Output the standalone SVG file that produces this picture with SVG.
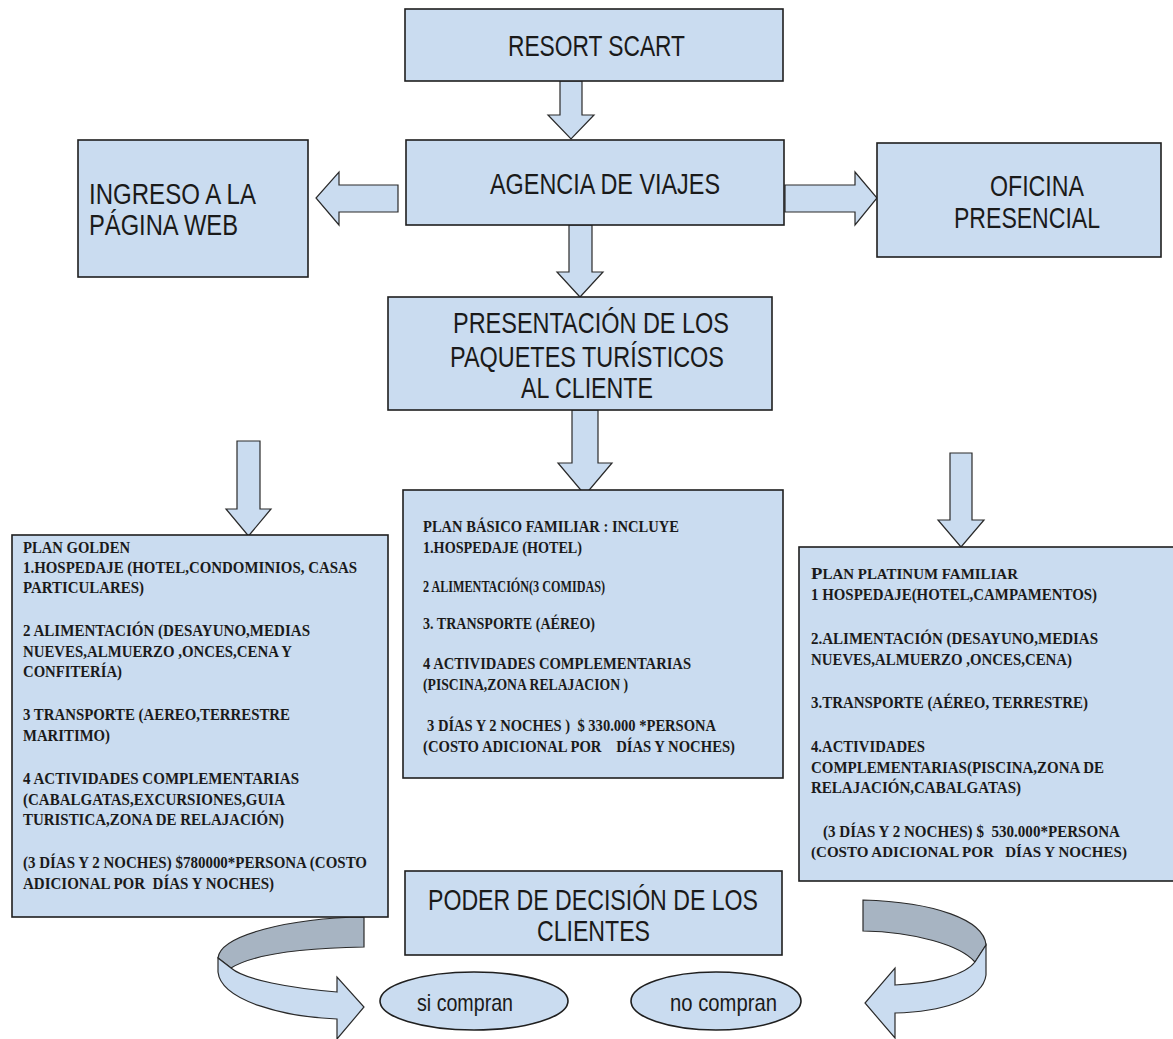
<svg xmlns="http://www.w3.org/2000/svg" width="1173" height="1039" viewBox="0 0 1173 1039">
<style>
.box{fill:#cadcf0;stroke:#1f1f1f;stroke-width:1.6}
.arr{fill:#cadcf0;stroke:#2a2a2a;stroke-width:1.2;stroke-linejoin:miter}
.back{fill:#a7b4c2;stroke:#2a2a2a;stroke-width:1.2}
.big{font-family:"Liberation Sans",Arial,sans-serif;font-size:30px;fill:#1a1a1a}
.sm{font-family:"Liberation Serif","Times New Roman",serif;font-weight:bold;font-size:17.5px;fill:#1a1a1a}
.ov{font-family:"Liberation Sans",Arial,sans-serif;font-size:24px;fill:#1a1a1a}
</style>
<rect width="1173" height="1039" fill="#ffffff"/>

<g id="connectors">
  <polygon class="arr" points="560,81 582,81 582,115 594,115 571,139 548,115 560,115"/>
  <polygon class="arr" points="398,185 339,185 339,172 316,198 339,225 339,212 398,212"/>
  <polygon class="arr" points="785,185 855,185 855,172 877,198 855,225 855,212 785,212"/>
  <polygon class="arr" points="569,225 592,225 592,272 603,272 580,297 557,272 569,272"/>
  <polygon class="arr" points="572,410 598,410 598,463 612,463 585,495 558,463 572,463"/>
  <polygon class="arr" points="237,441 260,441 260,509 271,509 248.5,536 226,509 237,509"/>
  <polygon class="arr" points="950,453 972,453 972,520 984,520 961,547 938,520 950,520"/>
  <path class="back" d="M364,917 C290,918 220,935 218,958 L231,968 C252,955 300,948 364,947 Z"/>
  <path class="arr" d="M218,958 L218,972 C221,1001 285,1017 337,1019 L337,1039 L364,1007 L337,977 L337,992 C290,988 245,980 231,968 Z"/>
  <path class="back" d="M863,900 C935,902 984,920 986,945 L975,962 C960,945 915,932 863,931 Z"/>
  <path class="arr" d="M986,945 L986,975 C983,1000 940,1012 895,1013 L895,1038 L865,1003 L895,968 L895,985 C935,983 965,975 975,962 Z"/>
</g>

<g id="resort">
  <rect class="box" x="405" y="9" width="378" height="72"/>
  <text class="big" x="508" y="56" textLength="177" lengthAdjust="spacingAndGlyphs">RESORT SCART</text>
</g>

<g id="agencia">
  <rect class="box" x="406" y="140" width="378" height="85"/>
  <text class="big" x="490" y="194" textLength="230" lengthAdjust="spacingAndGlyphs">AGENCIA DE VIAJES</text>
</g>

<g id="ingreso">
  <rect class="box" x="78" y="140" width="230" height="137"/>
  <text class="big" x="89" y="204" textLength="167" lengthAdjust="spacingAndGlyphs">INGRESO A LA</text>
  <text class="big" x="89" y="235" textLength="149" lengthAdjust="spacingAndGlyphs">PÁGINA WEB</text>
</g>

<g id="oficina">
  <rect class="box" x="877" y="143" width="284" height="114"/>
  <text class="big" x="990" y="196" textLength="94" lengthAdjust="spacingAndGlyphs">OFICINA</text>
  <text class="big" x="954" y="228" textLength="146" lengthAdjust="spacingAndGlyphs">PRESENCIAL</text>
</g>

<g id="presentacion">
  <rect class="box" x="388" y="297" width="384" height="113"/>
  <text class="big" x="453" y="333" textLength="276" lengthAdjust="spacingAndGlyphs">PRESENTACIÓN DE LOS</text>
  <text class="big" x="450" y="367" textLength="274" lengthAdjust="spacingAndGlyphs">PAQUETES TURÍSTICOS</text>
  <text class="big" x="521" y="398" textLength="132" lengthAdjust="spacingAndGlyphs">AL CLIENTE</text>
</g>

<g id="plan-golden">
  <rect class="box" x="12" y="535" width="376" height="382"/>
  <text class="sm" x="23" y="553" textLength="107" lengthAdjust="spacingAndGlyphs">PLAN GOLDEN</text>
  <text class="sm" x="23" y="573" textLength="334" lengthAdjust="spacingAndGlyphs">1.HOSPEDAJE (HOTEL,CONDOMINIOS, CASAS</text>
  <text class="sm" x="23" y="593" textLength="121" lengthAdjust="spacingAndGlyphs">PARTICULARES)</text>
  <text class="sm" x="23" y="636" textLength="287" lengthAdjust="spacingAndGlyphs">2 ALIMENTACIÓN (DESAYUNO,MEDIAS</text>
  <text class="sm" x="23" y="657" textLength="269" lengthAdjust="spacingAndGlyphs">NUEVES,ALMUERZO ,ONCES,CENA Y</text>
  <text class="sm" x="23" y="677" textLength="99" lengthAdjust="spacingAndGlyphs">CONFITERÍA)</text>
  <text class="sm" x="23" y="720" textLength="267" lengthAdjust="spacingAndGlyphs">3 TRANSPORTE (AEREO,TERRESTRE</text>
  <text class="sm" x="23" y="741" textLength="87" lengthAdjust="spacingAndGlyphs">MARITIMO)</text>
  <text class="sm" x="23" y="784" textLength="276" lengthAdjust="spacingAndGlyphs">4 ACTIVIDADES COMPLEMENTARIAS</text>
  <text class="sm" x="23" y="805" textLength="262" lengthAdjust="spacingAndGlyphs">(CABALGATAS,EXCURSIONES,GUIA</text>
  <text class="sm" x="23" y="825" textLength="261" lengthAdjust="spacingAndGlyphs">TURISTICA,ZONA DE RELAJACIÓN)</text>
  <text class="sm" x="23" y="868" textLength="344" lengthAdjust="spacingAndGlyphs">(3 DÍAS Y 2 NOCHES) $780000*PERSONA (COSTO</text>
  <text class="sm" x="23" y="889" textLength="251" lengthAdjust="spacingAndGlyphs" xml:space="preserve">ADICIONAL POR  DÍAS Y NOCHES)</text>
</g>

<g id="plan-basico">
  <rect class="box" x="403" y="490" width="380" height="288"/>
  <text class="sm" x="423" y="532" textLength="256" lengthAdjust="spacingAndGlyphs">PLAN BÁSICO FAMILIAR : INCLUYE</text>
  <text class="sm" x="423" y="553" textLength="159" lengthAdjust="spacingAndGlyphs">1.HOSPEDAJE (HOTEL)</text>
  <text class="sm" x="423" y="592" textLength="182" lengthAdjust="spacingAndGlyphs">2 ALIMENTACIÓN(3 COMIDAS)</text>
  <text class="sm" x="423" y="629" textLength="172" lengthAdjust="spacingAndGlyphs">3. TRANSPORTE (AÉREO)</text>
  <text class="sm" x="423" y="669" textLength="268" lengthAdjust="spacingAndGlyphs">4 ACTIVIDADES COMPLEMENTARIAS</text>
  <text class="sm" x="423" y="690" textLength="205" lengthAdjust="spacingAndGlyphs">(PISCINA,ZONA RELAJACION )</text>
  <text class="sm" x="427" y="731" textLength="289" lengthAdjust="spacingAndGlyphs" xml:space="preserve">3 DÍAS Y 2 NOCHES )  $ 330.000 *PERSONA</text>
  <text class="sm" x="423" y="752" textLength="312" lengthAdjust="spacingAndGlyphs" xml:space="preserve">(COSTO ADICIONAL POR    DÍAS Y NOCHES)</text>
</g>

<g id="plan-platinum">
  <rect class="box" x="799" y="547" width="380" height="334"/>
  <text class="sm" x="811" y="579" textLength="207" lengthAdjust="spacingAndGlyphs">P<tspan font-size="14">LAN PLATINUM FAMILIAR</tspan></text>
  <text class="sm" x="811" y="600" textLength="286" lengthAdjust="spacingAndGlyphs">1 HOSPEDAJE(HOTEL,CAMPAMENTOS)</text>
  <text class="sm" x="811" y="644" textLength="287" lengthAdjust="spacingAndGlyphs">2.ALIMENTACIÓN (DESAYUNO,MEDIAS</text>
  <text class="sm" x="811" y="665" textLength="261" lengthAdjust="spacingAndGlyphs">NUEVES,ALMUERZO ,ONCES,CENA)</text>
  <text class="sm" x="811" y="708" textLength="277" lengthAdjust="spacingAndGlyphs">3.TRANSPORTE (AÉREO, TERRESTRE)</text>
  <text class="sm" x="811" y="752" textLength="114" lengthAdjust="spacingAndGlyphs">4.ACTIVIDADES</text>
  <text class="sm" x="811" y="773" textLength="293" lengthAdjust="spacingAndGlyphs">COMPLEMENTARIAS(PISCINA,ZONA DE</text>
  <text class="sm" x="811" y="793" textLength="210" lengthAdjust="spacingAndGlyphs">RELAJACIÓN,CABALGATAS)</text>
  <text class="sm" x="823" y="837" textLength="297" lengthAdjust="spacingAndGlyphs" xml:space="preserve">(3 DÍAS Y 2 NOCHES) $  530.000*PERSONA</text>
  <text class="sm" x="811" y="857" style="font-size:15.5px" textLength="316" lengthAdjust="spacingAndGlyphs" xml:space="preserve">(COSTO ADICIONAL POR   DÍAS Y NOCHES)</text>
</g>

<g id="poder">
  <rect class="box" x="405" y="871" width="377" height="84"/>
  <text class="big" x="428" y="910" textLength="330" lengthAdjust="spacingAndGlyphs">PODER DE DECISIÓN DE LOS</text>
  <text class="big" x="537" y="941" textLength="113" lengthAdjust="spacingAndGlyphs">CLIENTES</text>
</g>

<g id="si-compran">
  <ellipse class="box" cx="474" cy="1001" rx="94" ry="29"/>
  <text class="ov" x="417" y="1011" textLength="96" lengthAdjust="spacingAndGlyphs">si compran</text>
</g>

<g id="no-compran">
  <ellipse class="box" cx="716" cy="1001" rx="85" ry="29"/>
  <text class="ov" x="670" y="1011" textLength="107" lengthAdjust="spacingAndGlyphs">no compran</text>
</g>
</svg>
